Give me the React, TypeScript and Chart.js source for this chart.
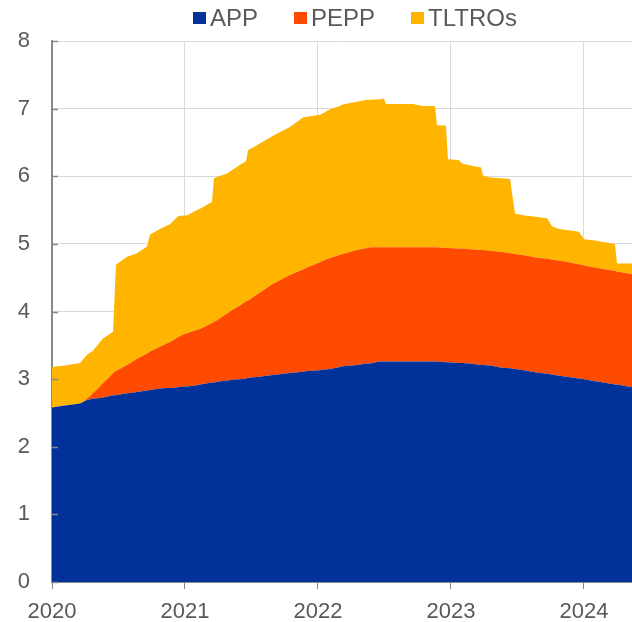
import { useEffect, useRef } from "react";
import { Chart, registerables } from "chart.js";

Chart.register(...registerables);

// Decimal-year dates (weekly Eurosystem balance-sheet readings, sampled at turning points)
const DATES = [
  2020.0, 2020.098, 2020.211, 2020.233, 2020.263, 2020.308, 2020.361, 2020.383, 2020.436, 2020.459,
  2020.481, 2020.564, 2020.609, 2020.639, 2020.714, 2020.737, 2020.812, 2020.865, 2020.887, 2020.947,
  2020.985, 2021.015, 2021.09, 2021.113, 2021.203, 2021.218, 2021.241, 2021.316, 2021.361, 2021.414,
  2021.459, 2021.474, 2021.541, 2021.662, 2021.789, 2021.887, 2021.917, 2022.015, 2022.038, 2022.09,
  2022.165, 2022.188, 2022.293, 2022.368, 2022.391, 2022.466, 2022.496, 2022.511, 2022.714, 2022.782,
  2022.88, 2022.895, 2022.962, 2022.977, 2023.06, 2023.083, 2023.143, 2023.226, 2023.241, 2023.293,
  2023.383, 2023.444, 2023.481, 2023.549, 2023.609, 2023.632, 2023.722, 2023.759, 2023.812, 2023.857,
  2023.962, 2024.0, 2024.083, 2024.113, 2024.233, 2024.248, 2024.361,
];

const APP = [
  2.58, 2.61, 2.64, 2.66, 2.69, 2.71, 2.72, 2.73, 2.75, 2.76,
  2.76, 2.79, 2.8, 2.81, 2.83, 2.84, 2.86, 2.87, 2.87, 2.88,
  2.89, 2.89, 2.91, 2.92, 2.95, 2.95, 2.96, 2.98, 2.99, 3.0,
  3.01, 3.02, 3.03, 3.06, 3.09, 3.11, 3.12, 3.13, 3.14, 3.15,
  3.18, 3.19, 3.21, 3.23, 3.23, 3.26, 3.26, 3.26, 3.26, 3.26,
  3.26, 3.26, 3.25, 3.25, 3.24, 3.24, 3.23, 3.21, 3.21, 3.2,
  3.17, 3.16, 3.15, 3.13, 3.11, 3.1, 3.08, 3.07, 3.05, 3.04,
  3.01, 3.0, 2.97, 2.96, 2.92, 2.92, 2.88,
];

const PEPP = [
  0.0, 0.0, 0.0, 0.0, 0.02, 0.08, 0.17, 0.21, 0.29, 0.33,
  0.36, 0.42, 0.46, 0.49, 0.55, 0.57, 0.62, 0.66, 0.68, 0.74,
  0.77, 0.79, 0.82, 0.82, 0.88, 0.9, 0.91, 0.99, 1.04, 1.09,
  1.14, 1.14, 1.22, 1.35, 1.45, 1.51, 1.53, 1.6, 1.61, 1.64,
  1.66, 1.66, 1.7, 1.71, 1.72, 1.69, 1.69, 1.69, 1.69, 1.69,
  1.69, 1.69, 1.69, 1.69, 1.69, 1.69, 1.69, 1.7, 1.7, 1.7,
  1.71, 1.7, 1.7, 1.7, 1.7, 1.7, 1.7, 1.7, 1.7, 1.7,
  1.69, 1.68, 1.68, 1.68, 1.68, 1.67, 1.67,
];

const TLTROS = [
  0.6, 0.59, 0.6, 0.63, 0.65, 0.63, 0.66, 0.66, 0.63, 0.61,
  1.57, 1.6, 1.58, 1.56, 1.58, 1.73, 1.74, 1.74, 1.74, 1.79,
  1.76, 1.74, 1.77, 1.78, 1.79, 2.12, 2.12, 2.07, 2.07, 2.08,
  2.07, 2.23, 2.21, 2.19, 2.19, 2.25, 2.23, 2.18, 2.18, 2.2,
  2.2, 2.21, 2.19, 2.19, 2.18, 2.19, 2.2, 2.12, 2.12, 2.09,
  2.09, 1.8, 1.81, 1.31, 1.31, 1.26, 1.24, 1.22, 1.1, 1.08,
  1.09, 1.1, 0.6, 0.59, 0.6, 0.6, 0.6, 0.49, 0.47, 0.47,
  0.48, 0.39, 0.4, 0.4, 0.4, 0.12, 0.16,
];

const SERIES_NAMES = ["APP", "PEPP", "TLTROs"];
const COLORS = ["#003299", "#FF4B00", "#FFB400"];
const YEAR_TICKS = [2020, 2021, 2022, 2023, 2024];
const X_MIN = 2020;
const X_MAX = 2024.361;
const Y_MIN = 0;
const Y_MAX = 8;

const FONT = "'Liberation Sans', Arial, sans-serif";
const TEXT = "#595959";
const AXIS = "#898989";
const GRID = "#d9d9d9";

export default function App() {
  const ref = useRef<HTMLCanvasElement>(null);

  useEffect(() => {
    if (!ref.current) return;
    const series = [APP, PEPP, TLTROS];
    const innerTicks = {
      id: "innerTicks",
      afterDraw(chart: any) {
        const y = chart.scales.y;
        const ctx = chart.ctx;
        const left = chart.chartArea.left;
        ctx.save();
        ctx.strokeStyle = AXIS;
        ctx.lineWidth = 1.5;
        y.ticks.forEach((t: any) => {
          const py = Math.round(y.getPixelForValue(t.value)) + 0.5;
          ctx.beginPath();
          ctx.moveTo(left, py);
          ctx.lineTo(left + 6, py);
          ctx.stroke();
        });
        ctx.restore();
      },
    };

    const chart = new Chart(ref.current, {
      type: "line",
      data: {
        datasets: series.map((vals, i) => ({
          label: SERIES_NAMES[i],
          data: DATES.map((d, j) => ({ x: d, y: vals[j] })),
          backgroundColor: COLORS[i],
          borderColor: COLORS[i],
          borderWidth: 0,
          pointRadius: 0,
          tension: 0,
          fill: i === 0 ? "origin" : "-1",
        })),
      },
      options: {
        animation: false,
        responsive: false,
        layout: { padding: { top: 41, left: 0, right: 0, bottom: 0 } },
        font: { family: FONT },
        plugins: {
          legend: { display: false },
          tooltip: { enabled: false },
        },
        scales: {
          x: {
            type: "linear",
            min: X_MIN,
            max: X_MAX,
            afterBuildTicks: (s: any) => {
              s.ticks = YEAR_TICKS.map((v) => ({ value: v }));
            },
            afterFit: (s: any) => {
              s.height = 40;
            },
            ticks: {
              callback: (v: any) => String(Math.round(Number(v))),
              color: TEXT,
              font: { family: FONT, size: 22 },
              padding: 10,
              maxRotation: 0,
            },
            grid: { color: GRID, lineWidth: 1, tickColor: AXIS, tickLength: 7, drawTicks: true },
            border: { color: AXIS, width: 2 },
          },
          y: {
            stacked: true,
            min: Y_MIN,
            max: Y_MAX,
            afterFit: (s: any) => {
              s.width = 52;
            },
            ticks: {
              stepSize: 1,
              color: TEXT,
              font: { family: FONT, size: 22 },
              padding: 22,
            },
            grid: { color: GRID, lineWidth: 1, drawTicks: false },
            border: { color: AXIS, width: 2 },
          },
        },
      } as any,
      plugins: [innerTicks],
    });
    return () => chart.destroy();
  }, []);

  return (
    <div style={{ position: "fixed", left: 0, top: 0, width: 632, height: 622, background: "#fff" }}>
      <canvas ref={ref} width={632} height={622} style={{ display: "block" }} />
      <div
        style={{
          position: "absolute",
          left: 193,
          top: 6,
          display: "flex",
          alignItems: "center",
          fontFamily: FONT,
          fontSize: 24,
          lineHeight: "24px",
          color: TEXT,
          whiteSpace: "nowrap",
        }}
      >
        {SERIES_NAMES.map((n, i) => (
          <div key={n} style={{ display: "flex", alignItems: "center", marginRight: i < SERIES_NAMES.length - 1 ? 36 : 0 }}>
            <span style={{ display: "inline-block", width: 13, height: 12, background: COLORS[i], marginRight: 4 }} />
            <span>{n}</span>
          </div>
        ))}
      </div>
    </div>
  );
}
